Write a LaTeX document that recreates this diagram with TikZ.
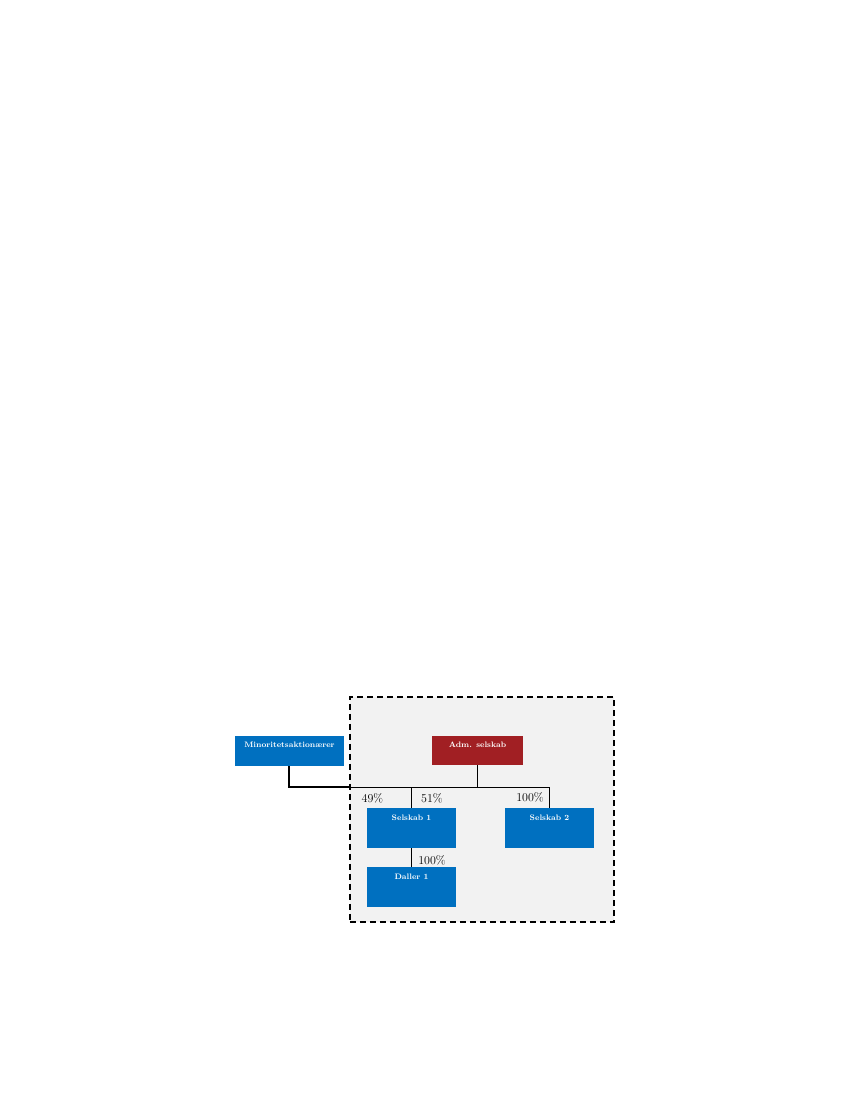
\documentclass[tikz,border=0pt]{standalone}
\usetikzlibrary{positioning}
\definecolor{boxblue}{HTML}{0070C0}
\definecolor{boxred}{HTML}{A11F23}
\definecolor{groupgrey}{HTML}{F2F2F2}
\begin{document}
\begin{tikzpicture}[x=1pt,y=-1pt,
  entity/.style={rectangle, anchor=north west, inner sep=0pt},
  etext/.style={text=white, font=\fontsize{7.9}{8}\selectfont\bfseries, inner sep=0pt},
  pct/.style={font=\fontsize{12}{12}\selectfont, inner sep=0pt},
  link/.style={draw=black, line width=0.8pt},
  thick link/.style={draw=black, line width=2.5pt}]
\useasboundingbox (0,0) rectangle (850,1100);
% group frame
\node[draw=black, fill=groupgrey, line width=1.6pt, dash pattern=on 6pt off 4pt,
      minimum width=264pt, minimum height=225pt, anchor=north west, inner sep=0pt] (grp) at (349,696) {};
% entities
\node[entity, fill=boxblue, minimum width=109pt, minimum height=30pt] (min) at (235,736) {};
\node[etext] (mintxt) at (289.5,745) {Minoritetsaktionærer};
\node[entity, fill=boxred, minimum width=91pt, minimum height=29pt] (adm) at (432,736) {};
\node[etext] (admtxt) at (477.5,745) {Adm. selskab};
\node[entity, fill=boxblue, minimum width=89pt, minimum height=40pt] (s1) at (367,808) {};
\node[etext] (s1txt) at (411.5,818) {Selskab 1};
\node[entity, fill=boxblue, minimum width=89pt, minimum height=40pt] (s2) at (505,808) {};
\node[etext] (s2txt) at (549.5,818) {Selskab 2};
\node[entity, fill=boxblue, minimum width=89pt, minimum height=40pt] (d1) at (367,867) {};
\node[etext] (d1txt) at (411.5,877) {Daller 1};
% junction coordinates
\coordinate (jadm) at (477,787);
\coordinate (jl) at (411,787);
\coordinate (jr) at (549,787);
\coordinate (jmin) at (289,787);
\coordinate (jedge) at (350,787);
% connectors
\draw[link] (adm.south -| jadm) -- (jadm);
\draw[link] (jedge) -- (jr) -- (s2.north -| jr);
\draw[link] (jl) -- (s1.north -| jl);
\draw[link] (s1.south -| jl) -- (d1.north -| jl);
\draw[thick link] (min.south -| jmin) -- (jmin) -- (jedge);
% percentages
\node[pct] (p49) at (372.5,798) {49\%};
\node[pct] (p51) at (432,798) {51\%};
\node[pct] (p100a) at (530,797) {100\%};
\node[pct] (p100b) at (432,860) {100\%};
\end{tikzpicture}
\end{document}
